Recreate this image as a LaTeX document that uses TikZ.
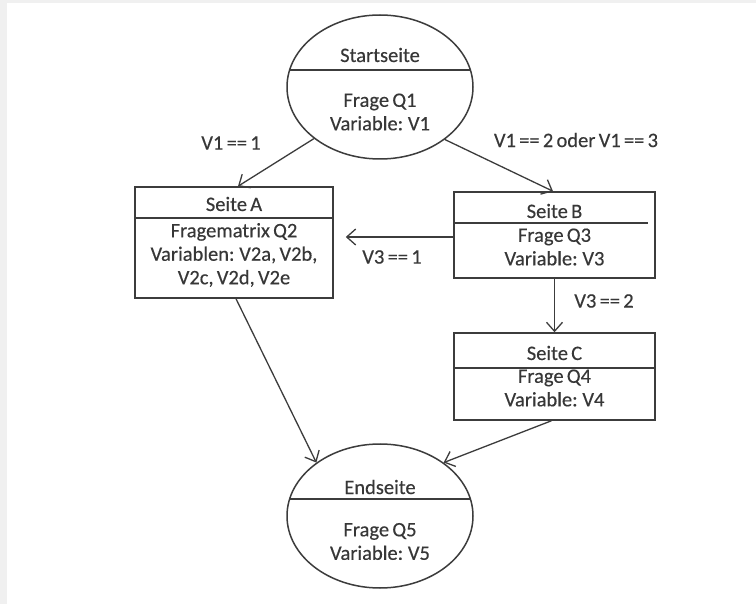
\documentclass[tikz,border=0pt]{standalone}
\usepackage{fontspec}
\setmainfont{Carlito}[WordSpace=0.7,FakeBold=0.35]
\usetikzlibrary{shapes.geometric,arrows.meta,calc}
\definecolor{ink}{RGB}{60,60,60}
\definecolor{txt}{RGB}{55,55,55}
\definecolor{frame}{RGB}{240,240,240}
\begin{document}
\begin{tikzpicture}[x=1pt,y=-1pt,
  shp/.style={draw=ink,line width=1.5pt,inner sep=0pt},
  ell/.style={shp,ellipse,minimum width=186pt,minimum height=144pt},
  box/.style={shp,rectangle},
  lbl/.style={text=txt,font=\fontsize{20.5}{23.5}\selectfont,align=center,inner sep=0pt},
  arr/.style={draw=ink,line width=1.3pt,-{Straight Barb[length=9pt,width=16pt,line width=1.3pt]}}]
\fill[frame] (0,0) rectangle (756,604);
\fill[white] (7,3) rectangle (756,604);
\useasboundingbox (0,0) rectangle (756,604);
% Startseite
\node[ell] (start) at (380,87) {};
\draw[ink,line width=1.5pt] (290,70) -- (470,70);
\node[lbl] (startT) at (380,55) {Startseite};
\node[lbl] (startB) at (380,112) {Frage Q1\\Variable: V1};
% Seite A
\node[box,minimum width=198pt,minimum height=111pt] (A) at (234,242.5) {};
\draw[ink,line width=1.5pt] (A.west |- 0,218) -- (A.east |- 0,218);
\node[lbl] (AT) at (234,204) {Seite A};
\node[lbl] (AB) at (234,255) {Fragematrix Q2\\Variablen: V2a, V2b,\\V2c, V2d, V2e};
% Seite B
\node[box,minimum width=201pt,minimum height=86pt] (B) at (554.5,235) {};
\draw[ink,line width=1.5pt] (B.west |- 0,223) -- (648,223);
\node[lbl] (BT) at (554.5,211) {Seite B};
\node[lbl] (BB) at (554.5,247) {Frage Q3\\Variable: V3};
% Seite C
\node[box,minimum width=201pt,minimum height=87pt] (C) at (554.5,376.5) {};
\draw[ink,line width=1.5pt] (C.west |- 0,368) -- (C.east |- 0,368);
\node[lbl] (CT) at (554.5,353) {Seite C};
\node[lbl] (CB) at (554.5,388) {Frage Q4\\Variable: V4};
% Endseite
\node[ell] (end) at (380,516) {};
\draw[ink,line width=1.5pt] (290,499) -- (470,499);
\node[lbl] (endT) at (380,487) {Endseite};
\node[lbl] (endB) at (380,541.5) {Frage Q5\\Variable: V5};
% connectors
\draw[arr] (start.218.3) -- ([xshift=4pt]A.north);
\draw[arr] (start.321.7) -- ([xshift=-1.5pt]B.north);
\draw[arr] ([yshift=-2pt]B.west) -- ([xshift=12pt,yshift=-2pt]B.west -| A.east);
\draw[arr] (B.south) -- (C.north);
\draw[arr] ([xshift=2pt]A.south) -- (end.140.4);
\draw[arr] ([xshift=-3pt]C.south) -- (end.40.6);
% labels
\node[lbl] (l1) at (231,143) {V1 == 1};
\node[lbl] (l2) at (576,140) {V1 == 2 oder V1 == 3};
\node[lbl] (l3) at (392,257) {V3 == 1};
\node[lbl] (l4) at (604,301) {V3 == 2};
\end{tikzpicture}
\end{document}
